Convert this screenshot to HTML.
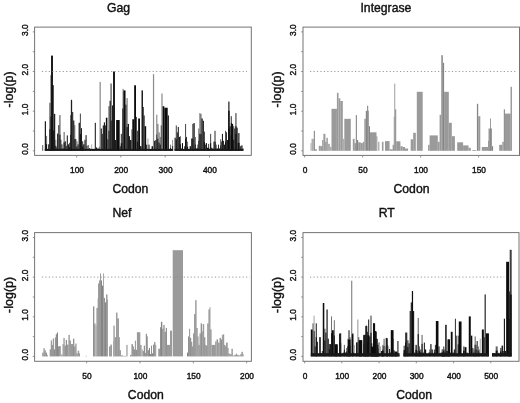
<!DOCTYPE html>
<html><head><meta charset="utf-8"><title>Codon plots</title>
<style>html,body{margin:0;padding:0;background:#fff;width:520px;height:403px;overflow:hidden}</style>
</head><body>
<svg width="520" height="403" viewBox="0 0 520 403" style="display:block;filter:blur(0.28px)">
<style>text{font-family:"Liberation Sans", sans-serif;fill:#111} .tk{stroke:#111;stroke-width:0.4} .lb{stroke:#111;stroke-width:0.4}</style>
<rect width="520" height="403" fill="#fff"/>
<g id="gag">
<rect x="42.00" y="145.11" width="1.23" height="5.69" fill="#7a7a7a"/>
<rect x="44.77" y="121.26" width="1.23" height="29.54" fill="#1e1e1e"/>
<rect x="46.00" y="135.88" width="1.08" height="14.92" fill="#7a7a7a"/>
<rect x="46.00" y="144.08" width="1.08" height="6.72" fill="#151515"/>
<rect x="47.08" y="148.95" width="1.08" height="1.85" fill="#1e1e1e"/>
<rect x="48.15" y="144.34" width="1.23" height="6.46" fill="#1e1e1e"/>
<rect x="49.38" y="102.80" width="1.23" height="48.00" fill="#505050"/>
<rect x="49.38" y="129.20" width="1.23" height="21.60" fill="#151515"/>
<rect x="53.23" y="130.49" width="0.77" height="20.31" fill="#0c0c0c"/>
<rect x="54.00" y="113.88" width="1.23" height="36.92" fill="#1e1e1e"/>
<rect x="55.23" y="139.72" width="1.08" height="11.08" fill="#7a7a7a"/>
<rect x="55.23" y="145.82" width="1.08" height="4.98" fill="#151515"/>
<rect x="56.31" y="147.42" width="0.77" height="3.38" fill="#1e1e1e"/>
<rect x="57.08" y="133.57" width="1.23" height="17.23" fill="#1e1e1e"/>
<rect x="58.31" y="125.11" width="1.08" height="25.69" fill="#1e1e1e"/>
<rect x="59.38" y="115.11" width="1.08" height="35.69" fill="#505050"/>
<rect x="59.38" y="134.74" width="1.08" height="16.06" fill="#151515"/>
<rect x="60.46" y="139.72" width="0.92" height="11.08" fill="#1e1e1e"/>
<rect x="61.38" y="144.34" width="1.08" height="6.46" fill="#1e1e1e"/>
<rect x="62.46" y="148.18" width="1.08" height="2.62" fill="#1e1e1e"/>
<rect x="63.54" y="132.03" width="1.23" height="18.77" fill="#7a7a7a"/>
<rect x="63.54" y="142.35" width="1.23" height="8.45" fill="#151515"/>
<rect x="64.77" y="141.26" width="1.08" height="9.54" fill="#1e1e1e"/>
<rect x="65.85" y="145.88" width="0.92" height="4.92" fill="#1e1e1e"/>
<rect x="66.77" y="135.42" width="1.08" height="15.38" fill="#1e1e1e"/>
<rect x="67.85" y="144.34" width="1.23" height="6.46" fill="#1e1e1e"/>
<rect x="69.08" y="142.80" width="1.08" height="8.00" fill="#505050"/>
<rect x="69.08" y="147.20" width="1.08" height="3.60" fill="#151515"/>
<rect x="70.15" y="115.11" width="0.77" height="35.69" fill="#505050"/>
<rect x="70.15" y="134.74" width="0.77" height="16.06" fill="#151515"/>
<rect x="70.92" y="100.49" width="1.23" height="50.31" fill="#1e1e1e"/>
<rect x="72.15" y="112.03" width="1.08" height="38.77" fill="#1e1e1e"/>
<rect x="73.23" y="120.49" width="1.08" height="30.31" fill="#0c0c0c"/>
<rect x="74.31" y="125.11" width="0.92" height="25.69" fill="#505050"/>
<rect x="74.31" y="139.24" width="0.92" height="11.56" fill="#151515"/>
<rect x="75.23" y="138.95" width="1.08" height="11.85" fill="#1e1e1e"/>
<rect x="76.31" y="141.26" width="1.23" height="9.54" fill="#7a7a7a"/>
<rect x="76.31" y="146.51" width="1.23" height="4.29" fill="#151515"/>
<rect x="77.54" y="144.34" width="1.08" height="6.46" fill="#1e1e1e"/>
<rect x="78.62" y="122.80" width="1.23" height="28.00" fill="#0c0c0c"/>
<rect x="79.85" y="113.57" width="1.08" height="37.23" fill="#505050"/>
<rect x="79.85" y="134.05" width="1.08" height="16.75" fill="#151515"/>
<rect x="80.92" y="128.18" width="1.08" height="22.62" fill="#1e1e1e"/>
<rect x="82.00" y="141.26" width="1.23" height="9.54" fill="#505050"/>
<rect x="82.00" y="146.51" width="1.23" height="4.29" fill="#151515"/>
<rect x="83.23" y="144.34" width="1.23" height="6.46" fill="#0c0c0c"/>
<rect x="84.46" y="139.72" width="1.08" height="11.08" fill="#1e1e1e"/>
<rect x="85.54" y="135.11" width="1.08" height="15.69" fill="#1e1e1e"/>
<rect x="86.62" y="145.88" width="0.92" height="4.92" fill="#1e1e1e"/>
<rect x="87.54" y="145.11" width="1.54" height="5.69" fill="#7a7a7a"/>
<rect x="89.08" y="148.18" width="1.08" height="2.62" fill="#1e1e1e"/>
<rect x="90.15" y="148.95" width="1.08" height="1.85" fill="#1e1e1e"/>
<rect x="91.23" y="144.34" width="0.92" height="6.46" fill="#a8a8a8"/>
<rect x="92.15" y="148.95" width="2.62" height="1.85" fill="#1e1e1e"/>
<rect x="94.77" y="122.80" width="1.08" height="28.00" fill="#1e1e1e"/>
<rect x="95.85" y="147.42" width="1.23" height="3.38" fill="#1e1e1e"/>
<rect x="97.08" y="148.18" width="1.85" height="2.62" fill="#7a7a7a"/>
<rect x="98.92" y="146.65" width="0.77" height="4.15" fill="#1e1e1e"/>
<rect x="50.46" y="75.10" width="0.92" height="75.70" fill="#505050"/>
<rect x="50.46" y="116.74" width="0.92" height="34.07" fill="#151515"/>
<rect x="51.08" y="55.60" width="1.85" height="95.20" fill="#0c0c0c"/>
<rect x="52.46" y="85.10" width="1.23" height="65.70" fill="#0c0c0c"/>
<rect x="70.92" y="99.80" width="1.08" height="51.00" fill="#1e1e1e"/>
<rect x="99.54" y="81.90" width="1.23" height="68.90" fill="#8b8b8b"/>
<rect x="110.46" y="83.50" width="1.23" height="67.30" fill="#505050"/>
<rect x="110.46" y="120.52" width="1.23" height="30.29" fill="#151515"/>
<rect x="113.08" y="71.50" width="1.85" height="79.30" fill="#0c0c0c"/>
<rect x="122.31" y="88.80" width="1.54" height="62.00" fill="#a8a8a8"/>
<rect x="123.38" y="90.40" width="2.15" height="60.40" fill="#0c0c0c"/>
<rect x="126.46" y="98.10" width="1.23" height="52.70" fill="#7a7a7a"/>
<rect x="126.46" y="127.09" width="1.23" height="23.72" fill="#151515"/>
<rect x="134.15" y="85.30" width="1.85" height="65.50" fill="#0c0c0c"/>
<rect x="141.54" y="90.40" width="1.38" height="60.40" fill="#0c0c0c"/>
<rect x="152.92" y="74.20" width="1.23" height="76.60" fill="#8b8b8b"/>
<rect x="161.38" y="93.50" width="1.23" height="57.30" fill="#8b8b8b"/>
<rect x="100.77" y="128.49" width="1.08" height="22.31" fill="#1e1e1e"/>
<rect x="101.85" y="133.88" width="0.92" height="16.92" fill="#1e1e1e"/>
<rect x="102.77" y="125.42" width="1.08" height="25.38" fill="#0c0c0c"/>
<rect x="103.85" y="122.34" width="1.08" height="28.46" fill="#0c0c0c"/>
<rect x="104.92" y="125.42" width="0.92" height="25.38" fill="#1e1e1e"/>
<rect x="105.85" y="117.72" width="1.54" height="33.08" fill="#0c0c0c"/>
<rect x="107.38" y="139.26" width="1.08" height="11.54" fill="#1e1e1e"/>
<rect x="108.46" y="106.18" width="1.08" height="44.62" fill="#505050"/>
<rect x="108.46" y="130.72" width="1.08" height="20.08" fill="#151515"/>
<rect x="109.54" y="100.80" width="1.23" height="50.00" fill="#1e1e1e"/>
<rect x="112.00" y="105.42" width="1.08" height="45.38" fill="#1e1e1e"/>
<rect x="114.92" y="140.03" width="1.23" height="10.77" fill="#1e1e1e"/>
<rect x="116.15" y="120.03" width="3.54" height="30.77" fill="#0c0c0c"/>
<rect x="119.69" y="146.18" width="1.08" height="4.62" fill="#1e1e1e"/>
<rect x="120.77" y="133.88" width="1.54" height="16.92" fill="#505050"/>
<rect x="120.77" y="143.18" width="1.54" height="7.62" fill="#151515"/>
<rect x="122.31" y="108.49" width="1.08" height="42.31" fill="#1e1e1e"/>
<rect x="125.38" y="104.65" width="1.08" height="46.15" fill="#1e1e1e"/>
<rect x="127.69" y="123.88" width="1.23" height="26.92" fill="#0c0c0c"/>
<rect x="128.92" y="136.18" width="1.08" height="14.62" fill="#1e1e1e"/>
<rect x="130.00" y="140.03" width="1.54" height="10.77" fill="#1e1e1e"/>
<rect x="131.54" y="129.26" width="0.77" height="21.54" fill="#1e1e1e"/>
<rect x="132.31" y="119.26" width="1.85" height="31.54" fill="#0c0c0c"/>
<rect x="136.15" y="116.95" width="0.77" height="33.85" fill="#1e1e1e"/>
<rect x="136.92" y="130.80" width="1.23" height="20.00" fill="#505050"/>
<rect x="136.92" y="141.80" width="1.23" height="9.00" fill="#151515"/>
<rect x="138.15" y="118.49" width="1.85" height="32.31" fill="#0c0c0c"/>
<rect x="140.00" y="146.18" width="1.54" height="4.62" fill="#1e1e1e"/>
<rect x="142.92" y="106.95" width="0.77" height="43.85" fill="#0c0c0c"/>
<rect x="143.69" y="115.42" width="0.92" height="35.38" fill="#0c0c0c"/>
<rect x="144.62" y="126.18" width="1.54" height="24.62" fill="#0c0c0c"/>
<rect x="146.15" y="144.65" width="1.23" height="6.15" fill="#1e1e1e"/>
<rect x="147.38" y="138.49" width="1.08" height="12.31" fill="#a8a8a8"/>
<rect x="148.46" y="144.65" width="1.08" height="6.15" fill="#1e1e1e"/>
<rect x="149.54" y="149.26" width="2.00" height="1.54" fill="#1e1e1e"/>
<rect x="151.54" y="146.18" width="1.54" height="4.62" fill="#1e1e1e"/>
<rect x="154.15" y="140.80" width="1.23" height="10.00" fill="#0c0c0c"/>
<rect x="155.38" y="140.03" width="1.08" height="10.77" fill="#1e1e1e"/>
<rect x="156.46" y="114.65" width="0.77" height="36.15" fill="#505050"/>
<rect x="156.46" y="134.53" width="0.77" height="16.27" fill="#151515"/>
<rect x="157.23" y="123.88" width="1.23" height="26.92" fill="#7a7a7a"/>
<rect x="157.23" y="138.68" width="1.23" height="12.12" fill="#151515"/>
<rect x="158.46" y="132.34" width="1.23" height="18.46" fill="#7a7a7a"/>
<rect x="158.46" y="142.49" width="1.23" height="8.31" fill="#151515"/>
<rect x="159.69" y="136.95" width="1.08" height="13.85" fill="#7a7a7a"/>
<rect x="159.69" y="144.57" width="1.08" height="6.23" fill="#151515"/>
<rect x="160.77" y="125.42" width="0.77" height="25.38" fill="#1e1e1e"/>
<rect x="162.62" y="106.18" width="1.69" height="44.62" fill="#0c0c0c"/>
<rect x="164.31" y="107.72" width="3.38" height="43.08" fill="#0c0c0c"/>
<rect x="167.69" y="115.42" width="1.23" height="35.38" fill="#1e1e1e"/>
<rect x="168.92" y="149.26" width="1.08" height="1.54" fill="#1e1e1e"/>
<rect x="170.00" y="144.65" width="1.08" height="6.15" fill="#7a7a7a"/>
<rect x="170.00" y="148.03" width="1.08" height="2.77" fill="#151515"/>
<rect x="171.08" y="149.26" width="1.23" height="1.54" fill="#1e1e1e"/>
<rect x="172.31" y="140.03" width="0.77" height="10.77" fill="#7a7a7a"/>
<rect x="172.31" y="145.95" width="0.77" height="4.85" fill="#151515"/>
<rect x="174.54" y="137.72" width="1.23" height="13.08" fill="#1e1e1e"/>
<rect x="175.77" y="125.42" width="1.08" height="25.38" fill="#505050"/>
<rect x="175.77" y="139.38" width="1.08" height="11.42" fill="#151515"/>
<rect x="176.85" y="132.34" width="0.92" height="18.46" fill="#0c0c0c"/>
<rect x="177.77" y="126.95" width="1.08" height="23.85" fill="#1e1e1e"/>
<rect x="178.85" y="136.95" width="1.08" height="13.85" fill="#0c0c0c"/>
<rect x="179.92" y="136.18" width="0.92" height="14.62" fill="#505050"/>
<rect x="179.92" y="144.22" width="0.92" height="6.58" fill="#151515"/>
<rect x="180.85" y="148.49" width="1.08" height="2.31" fill="#1e1e1e"/>
<rect x="181.92" y="143.11" width="1.08" height="7.69" fill="#0c0c0c"/>
<rect x="183.00" y="149.26" width="1.23" height="1.54" fill="#1e1e1e"/>
<rect x="184.23" y="146.18" width="0.77" height="4.62" fill="#1e1e1e"/>
<rect x="185.00" y="123.88" width="1.08" height="26.92" fill="#505050"/>
<rect x="185.00" y="138.68" width="1.08" height="12.12" fill="#151515"/>
<rect x="186.08" y="136.95" width="0.92" height="13.85" fill="#1e1e1e"/>
<rect x="187.00" y="141.57" width="1.08" height="9.23" fill="#7a7a7a"/>
<rect x="187.00" y="146.65" width="1.08" height="4.15" fill="#151515"/>
<rect x="188.08" y="149.26" width="1.54" height="1.54" fill="#1e1e1e"/>
<rect x="189.62" y="146.18" width="1.54" height="4.62" fill="#1e1e1e"/>
<rect x="191.15" y="138.49" width="1.08" height="12.31" fill="#1e1e1e"/>
<rect x="192.23" y="123.88" width="1.23" height="26.92" fill="#505050"/>
<rect x="192.23" y="138.68" width="1.23" height="12.12" fill="#151515"/>
<rect x="193.46" y="123.11" width="1.23" height="27.69" fill="#0c0c0c"/>
<rect x="194.69" y="136.95" width="1.08" height="13.85" fill="#505050"/>
<rect x="194.69" y="144.57" width="1.08" height="6.23" fill="#151515"/>
<rect x="195.77" y="148.49" width="1.54" height="2.31" fill="#1e1e1e"/>
<rect x="197.31" y="144.65" width="1.08" height="6.15" fill="#505050"/>
<rect x="197.31" y="148.03" width="1.08" height="2.77" fill="#151515"/>
<rect x="198.38" y="128.49" width="0.92" height="22.31" fill="#505050"/>
<rect x="198.38" y="140.76" width="0.92" height="10.04" fill="#151515"/>
<rect x="199.31" y="113.11" width="1.08" height="37.69" fill="#7a7a7a"/>
<rect x="199.31" y="133.84" width="1.08" height="16.96" fill="#151515"/>
<rect x="200.38" y="113.88" width="1.08" height="36.92" fill="#505050"/>
<rect x="200.38" y="134.18" width="1.08" height="16.62" fill="#151515"/>
<rect x="201.46" y="118.49" width="1.23" height="32.31" fill="#0c0c0c"/>
<rect x="202.69" y="120.80" width="1.23" height="30.00" fill="#1e1e1e"/>
<rect x="203.92" y="131.57" width="1.08" height="19.23" fill="#505050"/>
<rect x="203.92" y="142.15" width="1.08" height="8.65" fill="#151515"/>
<rect x="205.00" y="144.65" width="0.77" height="6.15" fill="#1e1e1e"/>
<rect x="205.77" y="143.11" width="1.23" height="7.69" fill="#1e1e1e"/>
<rect x="207.00" y="147.72" width="1.08" height="3.08" fill="#1e1e1e"/>
<rect x="208.08" y="143.88" width="1.08" height="6.92" fill="#505050"/>
<rect x="208.08" y="147.68" width="1.08" height="3.12" fill="#151515"/>
<rect x="209.15" y="149.26" width="0.92" height="1.54" fill="#1e1e1e"/>
<rect x="210.08" y="133.88" width="1.08" height="16.92" fill="#505050"/>
<rect x="210.08" y="143.18" width="1.08" height="7.62" fill="#151515"/>
<rect x="211.15" y="147.72" width="1.08" height="3.08" fill="#1e1e1e"/>
<rect x="212.23" y="148.49" width="1.23" height="2.31" fill="#1e1e1e"/>
<rect x="213.46" y="141.57" width="0.92" height="9.23" fill="#1e1e1e"/>
<rect x="214.38" y="130.80" width="1.23" height="20.00" fill="#505050"/>
<rect x="214.38" y="141.80" width="1.23" height="9.00" fill="#151515"/>
<rect x="215.62" y="144.65" width="0.92" height="6.15" fill="#1e1e1e"/>
<rect x="216.54" y="148.49" width="1.54" height="2.31" fill="#1e1e1e"/>
<rect x="218.08" y="144.65" width="0.92" height="6.15" fill="#1e1e1e"/>
<rect x="219.00" y="148.49" width="1.23" height="2.31" fill="#1e1e1e"/>
<rect x="220.23" y="139.26" width="0.92" height="11.54" fill="#505050"/>
<rect x="220.23" y="145.61" width="0.92" height="5.19" fill="#151515"/>
<rect x="221.15" y="141.57" width="0.77" height="9.23" fill="#1e1e1e"/>
<rect x="221.92" y="133.88" width="1.08" height="16.92" fill="#1e1e1e"/>
<rect x="223.00" y="140.80" width="0.92" height="10.00" fill="#1e1e1e"/>
<rect x="223.92" y="144.65" width="1.08" height="6.15" fill="#1e1e1e"/>
<rect x="225.00" y="130.80" width="1.08" height="20.00" fill="#505050"/>
<rect x="225.00" y="141.80" width="1.08" height="9.00" fill="#151515"/>
<rect x="226.08" y="132.34" width="0.92" height="18.46" fill="#1e1e1e"/>
<rect x="227.00" y="140.03" width="1.08" height="10.77" fill="#1e1e1e"/>
<rect x="228.08" y="101.57" width="1.54" height="49.23" fill="#505050"/>
<rect x="228.08" y="128.65" width="1.54" height="22.15" fill="#151515"/>
<rect x="228.23" y="110.80" width="1.38" height="40.00" fill="#0c0c0c"/>
<rect x="229.62" y="126.18" width="1.08" height="24.62" fill="#0c0c0c"/>
<rect x="230.69" y="116.18" width="1.23" height="34.62" fill="#505050"/>
<rect x="230.69" y="135.22" width="1.23" height="15.58" fill="#151515"/>
<rect x="230.85" y="123.11" width="1.08" height="27.69" fill="#0c0c0c"/>
<rect x="231.92" y="123.88" width="1.23" height="26.92" fill="#0c0c0c"/>
<rect x="233.15" y="126.18" width="1.08" height="24.62" fill="#505050"/>
<rect x="233.15" y="139.72" width="1.08" height="11.08" fill="#151515"/>
<rect x="234.23" y="128.49" width="1.08" height="22.31" fill="#1e1e1e"/>
<rect x="235.31" y="113.11" width="1.23" height="37.69" fill="#505050"/>
<rect x="235.31" y="133.84" width="1.23" height="16.96" fill="#151515"/>
<rect x="235.46" y="126.18" width="1.08" height="24.62" fill="#0c0c0c"/>
<rect x="236.54" y="127.72" width="1.08" height="23.08" fill="#0c0c0c"/>
<rect x="237.62" y="133.11" width="2.00" height="17.69" fill="#505050"/>
<rect x="237.62" y="142.84" width="2.00" height="7.96" fill="#151515"/>
<rect x="239.62" y="146.18" width="1.23" height="4.62" fill="#1e1e1e"/>
<rect x="240.85" y="145.42" width="1.85" height="5.38" fill="#505050"/>
<rect x="242.69" y="148.49" width="0.77" height="2.31" fill="#1e1e1e"/>
<rect x="44.80" y="148.90" width="128.30" height="1.90" fill="#181818"/>
<rect x="174.60" y="148.90" width="68.70" height="1.90" fill="#181818"/>
<line x1="41.9" y1="71.5" x2="247.0" y2="71.5" stroke="#888" stroke-width="0.85" stroke-dasharray="1.2,2.26"/>
<rect x="34.6" y="27.1" width="216.7" height="128.3" fill="none" stroke="#747474" stroke-width="1"/>
<line x1="32.8" y1="150.8" x2="34.6" y2="150.8" stroke="#777" stroke-width="0.8"/>
<line x1="32.8" y1="131.0" x2="34.6" y2="131.0" stroke="#777" stroke-width="0.8"/>
<line x1="32.8" y1="111.2" x2="34.6" y2="111.2" stroke="#777" stroke-width="0.8"/>
<line x1="32.8" y1="91.4" x2="34.6" y2="91.4" stroke="#777" stroke-width="0.8"/>
<line x1="32.8" y1="71.5" x2="34.6" y2="71.5" stroke="#777" stroke-width="0.8"/>
<line x1="32.8" y1="51.7" x2="34.6" y2="51.7" stroke="#777" stroke-width="0.8"/>
<line x1="32.8" y1="31.9" x2="34.6" y2="31.9" stroke="#777" stroke-width="0.8"/>
<text transform="translate(27.8,149.0) rotate(-90)" text-anchor="middle" font-size="8.4" class="tk">0.0</text>
<text transform="translate(27.8,109.4) rotate(-90)" text-anchor="middle" font-size="8.4" class="tk">1.0</text>
<text transform="translate(27.8,69.7) rotate(-90)" text-anchor="middle" font-size="8.4" class="tk">2.0</text>
<text transform="translate(27.8,30.1) rotate(-90)" text-anchor="middle" font-size="8.4" class="tk">3.0</text>
<line x1="76.6" y1="155.4" x2="76.6" y2="157.4" stroke="#777" stroke-width="0.8"/>
<text x="77.0" y="173.4" text-anchor="middle" font-size="8.4" class="tk">100</text>
<line x1="120.8" y1="155.4" x2="120.8" y2="157.4" stroke="#777" stroke-width="0.8"/>
<text x="121.2" y="173.4" text-anchor="middle" font-size="8.4" class="tk">200</text>
<line x1="165.2" y1="155.4" x2="165.2" y2="157.4" stroke="#777" stroke-width="0.8"/>
<text x="165.6" y="173.4" text-anchor="middle" font-size="8.4" class="tk">300</text>
<line x1="209.5" y1="155.4" x2="209.5" y2="157.4" stroke="#777" stroke-width="0.8"/>
<text x="209.9" y="173.4" text-anchor="middle" font-size="8.4" class="tk">400</text>
<text x="130.4" y="192.6" text-anchor="middle" font-size="12.2" class="lb">Codon</text>
<text transform="translate(12.5,89.4) rotate(-90)" text-anchor="middle" font-size="12.5" class="lb">-log(p)</text>
<text x="118.5" y="11.8" text-anchor="middle" font-size="12.2" class="lb">Gag</text>
</g>
<g id="int">
<rect x="310.50" y="143.10" width="1.00" height="7.70" fill="#adadad"/>
<rect x="311.50" y="138.80" width="2.30" height="12.00" fill="#adadad"/>
<rect x="313.80" y="130.80" width="1.10" height="20.00" fill="#858585"/>
<rect x="314.90" y="149.30" width="2.00" height="1.50" fill="#9a9a9a"/>
<rect x="318.80" y="145.80" width="2.00" height="5.00" fill="#9a9a9a"/>
<rect x="320.80" y="146.20" width="1.50" height="4.60" fill="#9a9a9a"/>
<rect x="322.30" y="140.00" width="1.10" height="10.80" fill="#858585"/>
<rect x="323.40" y="133.80" width="2.00" height="17.00" fill="#9a9a9a"/>
<rect x="325.40" y="141.80" width="1.10" height="9.00" fill="#858585"/>
<rect x="326.50" y="137.80" width="1.20" height="13.00" fill="#858585"/>
<rect x="327.70" y="143.80" width="2.30" height="7.00" fill="#adadad"/>
<rect x="330.00" y="146.80" width="1.50" height="4.00" fill="#adadad"/>
<rect x="331.50" y="108.80" width="5.40" height="42.00" fill="#9a9a9a"/>
<rect x="336.90" y="92.80" width="1.60" height="58.00" fill="#9a9a9a"/>
<rect x="338.50" y="98.30" width="1.80" height="52.50" fill="#9a9a9a"/>
<rect x="340.30" y="101.00" width="2.50" height="49.80" fill="#9a9a9a"/>
<rect x="342.80" y="138.80" width="1.50" height="12.00" fill="#adadad"/>
<rect x="344.30" y="118.80" width="6.50" height="32.00" fill="#9a9a9a"/>
<rect x="352.80" y="138.80" width="1.80" height="12.00" fill="#9a9a9a"/>
<rect x="354.60" y="143.10" width="1.20" height="7.70" fill="#858585"/>
<rect x="355.80" y="115.10" width="1.10" height="35.70" fill="#858585"/>
<rect x="356.90" y="140.00" width="1.30" height="10.80" fill="#858585"/>
<rect x="358.20" y="142.30" width="2.60" height="8.50" fill="#9a9a9a"/>
<rect x="360.80" y="143.10" width="2.00" height="7.70" fill="#9a9a9a"/>
<rect x="362.80" y="141.80" width="1.50" height="9.00" fill="#9a9a9a"/>
<rect x="364.30" y="118.80" width="1.50" height="32.00" fill="#9a9a9a"/>
<rect x="365.80" y="110.80" width="1.30" height="40.00" fill="#858585"/>
<rect x="367.10" y="105.80" width="1.10" height="45.00" fill="#858585"/>
<rect x="368.20" y="110.80" width="0.70" height="40.00" fill="#858585"/>
<rect x="368.90" y="126.20" width="1.10" height="24.60" fill="#858585"/>
<rect x="370.00" y="132.30" width="6.50" height="18.50" fill="#9a9a9a"/>
<rect x="376.50" y="136.20" width="0.80" height="14.60" fill="#858585"/>
<rect x="378.40" y="141.80" width="0.90" height="9.00" fill="#858585"/>
<rect x="381.90" y="141.80" width="1.60" height="9.00" fill="#9a9a9a"/>
<rect x="385.00" y="141.10" width="4.60" height="9.70" fill="#9a9a9a"/>
<rect x="389.60" y="149.30" width="3.10" height="1.50" fill="#9a9a9a"/>
<rect x="392.70" y="144.80" width="1.10" height="6.00" fill="#858585"/>
<rect x="393.80" y="116.80" width="0.60" height="34.00" fill="#858585"/>
<rect x="394.40" y="83.60" width="0.80" height="67.20" fill="#858585"/>
<rect x="395.20" y="109.30" width="1.00" height="41.50" fill="#858585"/>
<rect x="396.20" y="141.30" width="4.20" height="9.50" fill="#9a9a9a"/>
<rect x="400.40" y="146.20" width="2.30" height="4.60" fill="#9a9a9a"/>
<rect x="402.70" y="147.00" width="2.30" height="3.80" fill="#9a9a9a"/>
<rect x="405.00" y="148.50" width="3.10" height="2.30" fill="#9a9a9a"/>
<rect x="410.70" y="139.30" width="2.50" height="11.50" fill="#9a9a9a"/>
<rect x="413.20" y="132.80" width="2.60" height="18.00" fill="#9a9a9a"/>
<rect x="416.80" y="91.80" width="5.90" height="59.00" fill="#9a9a9a"/>
<rect x="428.10" y="144.80" width="1.50" height="6.00" fill="#9a9a9a"/>
<rect x="429.60" y="135.40" width="8.20" height="15.40" fill="#9a9a9a"/>
<rect x="437.80" y="141.80" width="1.80" height="9.00" fill="#9a9a9a"/>
<rect x="439.60" y="114.80" width="1.60" height="36.00" fill="#9a9a9a"/>
<rect x="441.20" y="55.20" width="1.80" height="95.60" fill="#9a9a9a"/>
<rect x="443.00" y="62.80" width="1.10" height="88.00" fill="#858585"/>
<rect x="444.10" y="91.80" width="4.70" height="59.00" fill="#9a9a9a"/>
<rect x="448.80" y="122.80" width="3.00" height="28.00" fill="#9a9a9a"/>
<rect x="451.80" y="136.20" width="3.10" height="14.60" fill="#9a9a9a"/>
<rect x="457.20" y="142.30" width="5.90" height="8.50" fill="#9a9a9a"/>
<rect x="463.10" y="145.40" width="5.40" height="5.40" fill="#9a9a9a"/>
<rect x="468.50" y="147.80" width="2.30" height="3.00" fill="#9a9a9a"/>
<rect x="472.30" y="150.00" width="3.90" height="0.80" fill="#9a9a9a"/>
<rect x="476.90" y="103.80" width="1.30" height="47.00" fill="#858585"/>
<rect x="478.20" y="116.20" width="2.10" height="34.60" fill="#9a9a9a"/>
<rect x="481.80" y="147.00" width="6.20" height="3.80" fill="#9a9a9a"/>
<rect x="488.00" y="140.80" width="1.50" height="10.00" fill="#9a9a9a"/>
<rect x="488.50" y="128.50" width="3.50" height="22.30" fill="#9a9a9a"/>
<rect x="490.00" y="118.50" width="0.80" height="32.30" fill="#858585"/>
<rect x="492.00" y="146.20" width="1.10" height="4.60" fill="#858585"/>
<rect x="499.20" y="144.80" width="3.10" height="6.00" fill="#9a9a9a"/>
<rect x="502.30" y="141.80" width="1.50" height="9.00" fill="#9a9a9a"/>
<rect x="503.80" y="109.30" width="1.10" height="41.50" fill="#858585"/>
<rect x="504.90" y="113.60" width="5.70" height="37.20" fill="#9a9a9a"/>
<rect x="510.60" y="86.80" width="1.20" height="64.00" fill="#858585"/>
<line x1="310.0" y1="71.5" x2="517.2" y2="71.5" stroke="#888" stroke-width="0.85" stroke-dasharray="1.2,2.26"/>
<rect x="303.0" y="27.1" width="216.5" height="128.3" fill="none" stroke="#747474" stroke-width="1"/>
<line x1="301.2" y1="150.8" x2="303.0" y2="150.8" stroke="#777" stroke-width="0.8"/>
<line x1="301.2" y1="131.0" x2="303.0" y2="131.0" stroke="#777" stroke-width="0.8"/>
<line x1="301.2" y1="111.2" x2="303.0" y2="111.2" stroke="#777" stroke-width="0.8"/>
<line x1="301.2" y1="91.4" x2="303.0" y2="91.4" stroke="#777" stroke-width="0.8"/>
<line x1="301.2" y1="71.5" x2="303.0" y2="71.5" stroke="#777" stroke-width="0.8"/>
<line x1="301.2" y1="51.7" x2="303.0" y2="51.7" stroke="#777" stroke-width="0.8"/>
<line x1="301.2" y1="31.9" x2="303.0" y2="31.9" stroke="#777" stroke-width="0.8"/>
<text transform="translate(296.2,149.0) rotate(-90)" text-anchor="middle" font-size="8.4" class="tk">0.0</text>
<text transform="translate(296.2,109.4) rotate(-90)" text-anchor="middle" font-size="8.4" class="tk">1.0</text>
<text transform="translate(296.2,69.7) rotate(-90)" text-anchor="middle" font-size="8.4" class="tk">2.0</text>
<text transform="translate(296.2,30.1) rotate(-90)" text-anchor="middle" font-size="8.4" class="tk">3.0</text>
<line x1="304.6" y1="155.4" x2="304.6" y2="157.4" stroke="#777" stroke-width="0.8"/>
<text x="305.0" y="173.4" text-anchor="middle" font-size="8.4" class="tk">0</text>
<line x1="362.6" y1="155.4" x2="362.6" y2="157.4" stroke="#777" stroke-width="0.8"/>
<text x="363.0" y="173.4" text-anchor="middle" font-size="8.4" class="tk">50</text>
<line x1="420.6" y1="155.4" x2="420.6" y2="157.4" stroke="#777" stroke-width="0.8"/>
<text x="421.0" y="173.4" text-anchor="middle" font-size="8.4" class="tk">100</text>
<line x1="478.6" y1="155.4" x2="478.6" y2="157.4" stroke="#777" stroke-width="0.8"/>
<text x="479.0" y="173.4" text-anchor="middle" font-size="8.4" class="tk">150</text>
<text x="411.5" y="192.6" text-anchor="middle" font-size="12.2" class="lb">Codon</text>
<text transform="translate(280.9,89.4) rotate(-90)" text-anchor="middle" font-size="12.5" class="lb">-log(p)</text>
<text x="385.9" y="11.8" text-anchor="middle" font-size="12.2" class="lb">Integrase</text>
</g>
<g id="nef">
<rect x="42.30" y="352.60" width="1.20" height="3.80" fill="#858585"/>
<rect x="43.50" y="348.20" width="1.10" height="8.20" fill="#858585"/>
<rect x="44.60" y="350.20" width="1.10" height="6.20" fill="#858585"/>
<rect x="45.70" y="352.60" width="1.20" height="3.80" fill="#858585"/>
<rect x="46.90" y="354.90" width="0.80" height="1.50" fill="#858585"/>
<rect x="49.70" y="349.40" width="1.10" height="7.00" fill="#858585"/>
<rect x="50.80" y="340.40" width="1.00" height="16.00" fill="#858585"/>
<rect x="51.80" y="344.90" width="1.00" height="11.50" fill="#858585"/>
<rect x="52.80" y="338.40" width="1.00" height="18.00" fill="#858585"/>
<rect x="53.80" y="349.40" width="1.10" height="7.00" fill="#858585"/>
<rect x="54.90" y="337.40" width="0.90" height="19.00" fill="#858585"/>
<rect x="55.80" y="334.10" width="1.10" height="22.30" fill="#858585"/>
<rect x="56.90" y="332.40" width="1.10" height="24.00" fill="#858585"/>
<rect x="58.00" y="346.40" width="0.90" height="10.00" fill="#858585"/>
<rect x="58.90" y="346.10" width="1.90" height="10.30" fill="#9a9a9a"/>
<rect x="60.80" y="354.40" width="1.80" height="2.00" fill="#adadad"/>
<rect x="62.60" y="344.10" width="0.90" height="12.30" fill="#858585"/>
<rect x="63.50" y="337.90" width="1.10" height="18.50" fill="#858585"/>
<rect x="64.60" y="345.60" width="1.20" height="10.80" fill="#858585"/>
<rect x="65.80" y="339.90" width="1.10" height="16.50" fill="#858585"/>
<rect x="66.90" y="344.60" width="1.60" height="11.80" fill="#9a9a9a"/>
<rect x="68.50" y="334.90" width="1.20" height="21.50" fill="#858585"/>
<rect x="69.70" y="340.60" width="1.10" height="15.80" fill="#858585"/>
<rect x="70.80" y="344.10" width="2.30" height="12.30" fill="#9a9a9a"/>
<rect x="73.10" y="338.70" width="1.20" height="17.70" fill="#858585"/>
<rect x="74.30" y="346.40" width="1.10" height="10.00" fill="#858585"/>
<rect x="75.40" y="343.60" width="1.10" height="12.80" fill="#858585"/>
<rect x="76.50" y="353.40" width="1.20" height="3.00" fill="#858585"/>
<rect x="77.70" y="350.70" width="1.50" height="5.70" fill="#9a9a9a"/>
<rect x="79.20" y="353.40" width="0.80" height="3.00" fill="#858585"/>
<rect x="85.50" y="355.80" width="1.50" height="0.60" fill="#adadad"/>
<rect x="93.10" y="306.40" width="1.20" height="50.00" fill="#858585"/>
<rect x="94.30" y="323.40" width="1.10" height="33.00" fill="#858585"/>
<rect x="95.40" y="325.60" width="1.10" height="30.80" fill="#adadad"/>
<rect x="96.50" y="307.90" width="1.20" height="48.50" fill="#858585"/>
<rect x="97.70" y="298.40" width="0.50" height="58.00" fill="#858585"/>
<rect x="98.20" y="283.40" width="1.00" height="73.00" fill="#858585"/>
<rect x="99.20" y="280.40" width="0.80" height="76.00" fill="#858585"/>
<rect x="100.00" y="273.40" width="0.80" height="83.00" fill="#858585"/>
<rect x="100.80" y="280.40" width="1.20" height="76.00" fill="#858585"/>
<rect x="102.00" y="285.60" width="1.10" height="70.80" fill="#858585"/>
<rect x="103.10" y="273.40" width="0.70" height="83.00" fill="#858585"/>
<rect x="103.80" y="297.90" width="1.10" height="58.50" fill="#858585"/>
<rect x="104.90" y="302.40" width="1.30" height="54.00" fill="#858585"/>
<rect x="106.20" y="294.40" width="1.20" height="62.00" fill="#858585"/>
<rect x="107.40" y="299.40" width="0.60" height="57.00" fill="#858585"/>
<rect x="109.20" y="346.40" width="1.30" height="10.00" fill="#858585"/>
<rect x="110.50" y="344.60" width="1.30" height="11.80" fill="#858585"/>
<rect x="113.10" y="341.00" width="0.40" height="15.40" fill="#858585"/>
<rect x="113.50" y="325.60" width="1.10" height="30.80" fill="#858585"/>
<rect x="114.60" y="337.20" width="1.60" height="19.20" fill="#9a9a9a"/>
<rect x="116.20" y="312.60" width="1.20" height="43.80" fill="#858585"/>
<rect x="117.40" y="318.40" width="1.40" height="38.00" fill="#858585"/>
<rect x="118.80" y="337.20" width="0.90" height="19.20" fill="#858585"/>
<rect x="119.70" y="350.20" width="1.10" height="6.20" fill="#858585"/>
<rect x="120.80" y="355.40" width="2.30" height="1.00" fill="#9a9a9a"/>
<rect x="123.10" y="355.90" width="3.10" height="0.50" fill="#9a9a9a"/>
<rect x="126.20" y="344.90" width="1.50" height="11.50" fill="#adadad"/>
<rect x="130.00" y="354.90" width="1.50" height="1.50" fill="#9a9a9a"/>
<rect x="131.50" y="344.10" width="1.30" height="12.30" fill="#858585"/>
<rect x="132.80" y="346.40" width="1.00" height="10.00" fill="#858585"/>
<rect x="133.80" y="349.40" width="1.10" height="7.00" fill="#858585"/>
<rect x="134.90" y="340.60" width="0.90" height="15.80" fill="#858585"/>
<rect x="135.80" y="349.80" width="1.10" height="6.60" fill="#858585"/>
<rect x="136.90" y="332.20" width="3.40" height="24.20" fill="#9a9a9a"/>
<rect x="140.30" y="344.90" width="1.20" height="11.50" fill="#858585"/>
<rect x="141.50" y="349.40" width="1.30" height="7.00" fill="#adadad"/>
<rect x="142.80" y="351.00" width="1.00" height="5.40" fill="#858585"/>
<rect x="143.80" y="345.60" width="1.10" height="10.80" fill="#858585"/>
<rect x="144.90" y="352.90" width="0.90" height="3.50" fill="#858585"/>
<rect x="145.80" y="333.80" width="1.10" height="22.60" fill="#858585"/>
<rect x="146.90" y="336.40" width="0.80" height="20.00" fill="#858585"/>
<rect x="147.70" y="350.20" width="1.20" height="6.20" fill="#858585"/>
<rect x="148.90" y="347.90" width="1.10" height="8.50" fill="#858585"/>
<rect x="150.00" y="354.10" width="1.10" height="2.30" fill="#858585"/>
<rect x="151.10" y="345.60" width="0.90" height="10.80" fill="#858585"/>
<rect x="152.00" y="353.40" width="1.10" height="3.00" fill="#858585"/>
<rect x="153.10" y="344.60" width="1.10" height="11.80" fill="#858585"/>
<rect x="154.20" y="342.10" width="1.20" height="14.30" fill="#858585"/>
<rect x="155.40" y="344.90" width="0.80" height="11.50" fill="#858585"/>
<rect x="158.20" y="348.70" width="1.80" height="7.70" fill="#9a9a9a"/>
<rect x="160.00" y="327.20" width="0.90" height="29.20" fill="#858585"/>
<rect x="160.90" y="321.80" width="1.40" height="34.60" fill="#858585"/>
<rect x="162.30" y="328.70" width="1.10" height="27.70" fill="#858585"/>
<rect x="163.40" y="324.90" width="1.20" height="31.50" fill="#858585"/>
<rect x="164.60" y="331.80" width="1.20" height="24.60" fill="#858585"/>
<rect x="165.80" y="327.90" width="1.10" height="28.50" fill="#858585"/>
<rect x="166.90" y="344.90" width="3.10" height="11.50" fill="#9a9a9a"/>
<rect x="170.00" y="330.70" width="2.00" height="25.70" fill="#9a9a9a"/>
<rect x="172.70" y="250.20" width="10.30" height="106.20" fill="#9a9a9a"/>
<rect x="187.00" y="352.60" width="1.10" height="3.80" fill="#858585"/>
<rect x="188.10" y="336.40" width="1.10" height="20.00" fill="#858585"/>
<rect x="189.20" y="328.70" width="0.90" height="27.70" fill="#858585"/>
<rect x="190.10" y="337.90" width="1.10" height="18.50" fill="#858585"/>
<rect x="191.20" y="341.80" width="1.00" height="14.60" fill="#858585"/>
<rect x="192.20" y="346.40" width="1.00" height="10.00" fill="#858585"/>
<rect x="193.20" y="333.40" width="1.00" height="23.00" fill="#858585"/>
<rect x="194.20" y="314.10" width="1.10" height="42.30" fill="#858585"/>
<rect x="195.30" y="300.20" width="1.20" height="56.20" fill="#858585"/>
<rect x="196.50" y="327.90" width="1.10" height="28.50" fill="#858585"/>
<rect x="197.60" y="336.40" width="0.90" height="20.00" fill="#858585"/>
<rect x="198.50" y="344.90" width="1.10" height="11.50" fill="#858585"/>
<rect x="199.60" y="333.40" width="1.10" height="23.00" fill="#858585"/>
<rect x="200.70" y="323.40" width="1.20" height="33.00" fill="#858585"/>
<rect x="201.90" y="331.40" width="0.80" height="25.00" fill="#858585"/>
<rect x="202.70" y="324.10" width="1.50" height="32.30" fill="#9a9a9a"/>
<rect x="204.20" y="337.20" width="1.10" height="19.20" fill="#858585"/>
<rect x="205.30" y="344.90" width="0.90" height="11.50" fill="#858585"/>
<rect x="206.20" y="345.60" width="1.10" height="10.80" fill="#858585"/>
<rect x="207.30" y="323.40" width="1.20" height="33.00" fill="#858585"/>
<rect x="208.50" y="309.40" width="1.10" height="47.00" fill="#858585"/>
<rect x="209.60" y="307.20" width="0.80" height="49.20" fill="#858585"/>
<rect x="210.40" y="329.40" width="1.10" height="27.00" fill="#858585"/>
<rect x="211.50" y="344.90" width="3.80" height="11.50" fill="#9a9a9a"/>
<rect x="215.30" y="341.40" width="1.20" height="15.00" fill="#858585"/>
<rect x="216.50" y="339.40" width="1.60" height="17.00" fill="#9a9a9a"/>
<rect x="218.10" y="342.60" width="1.50" height="13.80" fill="#9a9a9a"/>
<rect x="219.60" y="337.90" width="1.20" height="18.50" fill="#858585"/>
<rect x="220.80" y="339.40" width="1.10" height="17.00" fill="#858585"/>
<rect x="221.90" y="334.90" width="0.80" height="21.50" fill="#858585"/>
<rect x="222.70" y="334.40" width="1.50" height="22.00" fill="#9a9a9a"/>
<rect x="224.20" y="344.90" width="1.10" height="11.50" fill="#858585"/>
<rect x="225.30" y="346.40" width="0.90" height="10.00" fill="#858585"/>
<rect x="226.20" y="342.60" width="1.40" height="13.80" fill="#858585"/>
<rect x="227.60" y="347.90" width="0.90" height="8.50" fill="#858585"/>
<rect x="228.50" y="353.40" width="1.10" height="3.00" fill="#858585"/>
<rect x="229.60" y="354.10" width="1.90" height="2.30" fill="#9a9a9a"/>
<rect x="231.50" y="348.70" width="1.20" height="7.70" fill="#858585"/>
<rect x="232.70" y="355.60" width="1.50" height="0.80" fill="#9a9a9a"/>
<rect x="234.20" y="354.90" width="1.60" height="1.50" fill="#9a9a9a"/>
<rect x="235.80" y="353.60" width="1.00" height="2.80" fill="#858585"/>
<rect x="236.80" y="354.90" width="2.00" height="1.50" fill="#9a9a9a"/>
<rect x="238.80" y="355.40" width="1.60" height="1.00" fill="#9a9a9a"/>
<rect x="240.40" y="354.10" width="1.10" height="2.30" fill="#858585"/>
<rect x="241.50" y="351.80" width="1.20" height="4.60" fill="#858585"/>
<rect x="242.70" y="354.10" width="0.80" height="2.30" fill="#858585"/>
<line x1="41.9" y1="277.1" x2="249.8" y2="277.1" stroke="#888" stroke-width="0.85" stroke-dasharray="1.2,2.26"/>
<rect x="34.6" y="232.6" width="216.8" height="128.7" fill="none" stroke="#747474" stroke-width="1"/>
<line x1="32.8" y1="356.4" x2="34.6" y2="356.4" stroke="#777" stroke-width="0.8"/>
<line x1="32.8" y1="336.6" x2="34.6" y2="336.6" stroke="#777" stroke-width="0.8"/>
<line x1="32.8" y1="316.8" x2="34.6" y2="316.8" stroke="#777" stroke-width="0.8"/>
<line x1="32.8" y1="297.0" x2="34.6" y2="297.0" stroke="#777" stroke-width="0.8"/>
<line x1="32.8" y1="277.1" x2="34.6" y2="277.1" stroke="#777" stroke-width="0.8"/>
<line x1="32.8" y1="257.3" x2="34.6" y2="257.3" stroke="#777" stroke-width="0.8"/>
<line x1="32.8" y1="237.5" x2="34.6" y2="237.5" stroke="#777" stroke-width="0.8"/>
<text transform="translate(27.8,354.6) rotate(-90)" text-anchor="middle" font-size="8.4" class="tk">0.0</text>
<text transform="translate(27.8,315.0) rotate(-90)" text-anchor="middle" font-size="8.4" class="tk">1.0</text>
<text transform="translate(27.8,275.3) rotate(-90)" text-anchor="middle" font-size="8.4" class="tk">2.0</text>
<text transform="translate(27.8,235.7) rotate(-90)" text-anchor="middle" font-size="8.4" class="tk">3.0</text>
<line x1="86.6" y1="361.3" x2="86.6" y2="363.3" stroke="#777" stroke-width="0.8"/>
<text x="87.0" y="379.3" text-anchor="middle" font-size="8.4" class="tk">50</text>
<line x1="140.0" y1="361.3" x2="140.0" y2="363.3" stroke="#777" stroke-width="0.8"/>
<text x="140.4" y="379.3" text-anchor="middle" font-size="8.4" class="tk">100</text>
<line x1="193.3" y1="361.3" x2="193.3" y2="363.3" stroke="#777" stroke-width="0.8"/>
<text x="193.7" y="379.3" text-anchor="middle" font-size="8.4" class="tk">150</text>
<line x1="246.6" y1="361.3" x2="246.6" y2="363.3" stroke="#777" stroke-width="0.8"/>
<text x="247.0" y="379.3" text-anchor="middle" font-size="8.4" class="tk">200</text>
<text x="145.8" y="399.2" text-anchor="middle" font-size="12.2" class="lb">Codon</text>
<text transform="translate(12.5,294.9) rotate(-90)" text-anchor="middle" font-size="12.5" class="lb">-log(p)</text>
<text x="121.9" y="217.3" text-anchor="middle" font-size="12.2" class="lb">Nef</text>
</g>
<g id="rt">
<rect x="310.77" y="329.48" width="1.85" height="26.92" fill="#0c0c0c"/>
<rect x="312.62" y="323.32" width="0.92" height="33.08" fill="#1e1e1e"/>
<rect x="313.54" y="315.63" width="1.08" height="40.77" fill="#a8a8a8"/>
<rect x="313.69" y="331.02" width="0.92" height="25.38" fill="#1e1e1e"/>
<rect x="314.62" y="346.40" width="1.08" height="10.00" fill="#0c0c0c"/>
<rect x="315.69" y="323.32" width="1.23" height="33.08" fill="#3e3e3e"/>
<rect x="315.69" y="337.22" width="1.23" height="19.18" fill="#151515"/>
<rect x="316.92" y="341.78" width="0.92" height="14.62" fill="#0c0c0c"/>
<rect x="317.85" y="354.09" width="1.38" height="2.31" fill="#1e1e1e"/>
<rect x="319.23" y="337.17" width="1.54" height="19.23" fill="#0c0c0c"/>
<rect x="320.77" y="353.32" width="1.08" height="3.08" fill="#1e1e1e"/>
<rect x="321.85" y="351.02" width="0.92" height="5.38" fill="#1e1e1e"/>
<rect x="322.77" y="303.02" width="1.54" height="53.38" fill="#0c0c0c"/>
<rect x="324.31" y="328.71" width="1.08" height="27.69" fill="#3e3e3e"/>
<rect x="324.31" y="340.34" width="1.08" height="16.06" fill="#151515"/>
<rect x="325.38" y="332.55" width="1.08" height="23.85" fill="#0c0c0c"/>
<rect x="326.46" y="309.48" width="1.23" height="46.92" fill="#1e1e1e"/>
<rect x="327.69" y="338.71" width="1.08" height="17.69" fill="#0c0c0c"/>
<rect x="328.77" y="344.09" width="1.23" height="12.31" fill="#3e3e3e"/>
<rect x="328.77" y="349.26" width="1.23" height="7.14" fill="#151515"/>
<rect x="330.00" y="344.09" width="1.08" height="12.31" fill="#1e1e1e"/>
<rect x="331.08" y="316.40" width="0.92" height="40.00" fill="#666666"/>
<rect x="331.08" y="333.20" width="0.92" height="23.20" fill="#151515"/>
<rect x="332.00" y="330.25" width="1.85" height="26.15" fill="#0c0c0c"/>
<rect x="333.85" y="320.25" width="0.92" height="36.15" fill="#666666"/>
<rect x="333.85" y="335.43" width="0.92" height="20.97" fill="#151515"/>
<rect x="334.77" y="344.86" width="0.92" height="11.54" fill="#1e1e1e"/>
<rect x="335.69" y="344.55" width="2.00" height="11.85" fill="#0c0c0c"/>
<rect x="337.69" y="353.32" width="1.54" height="3.08" fill="#1e1e1e"/>
<rect x="339.23" y="342.55" width="1.08" height="13.85" fill="#0c0c0c"/>
<rect x="340.31" y="333.32" width="0.92" height="23.08" fill="#3e3e3e"/>
<rect x="340.31" y="343.02" width="0.92" height="13.38" fill="#151515"/>
<rect x="341.23" y="354.09" width="1.54" height="2.31" fill="#1e1e1e"/>
<rect x="342.77" y="352.55" width="1.08" height="3.85" fill="#1e1e1e"/>
<rect x="343.85" y="344.86" width="1.08" height="11.54" fill="#666666"/>
<rect x="343.85" y="349.71" width="1.08" height="6.69" fill="#151515"/>
<rect x="344.92" y="352.55" width="1.23" height="3.85" fill="#1e1e1e"/>
<rect x="346.15" y="347.94" width="1.23" height="8.46" fill="#666666"/>
<rect x="346.15" y="351.49" width="1.23" height="4.91" fill="#151515"/>
<rect x="347.38" y="338.71" width="1.08" height="17.69" fill="#666666"/>
<rect x="347.38" y="346.14" width="1.08" height="10.26" fill="#151515"/>
<rect x="348.46" y="330.25" width="1.08" height="26.15" fill="#1e1e1e"/>
<rect x="349.54" y="337.17" width="0.92" height="19.23" fill="#3e3e3e"/>
<rect x="349.54" y="345.25" width="0.92" height="11.15" fill="#151515"/>
<rect x="350.46" y="339.48" width="0.77" height="16.92" fill="#0c0c0c"/>
<rect x="352.31" y="333.32" width="1.08" height="23.08" fill="#0c0c0c"/>
<rect x="353.38" y="352.55" width="0.77" height="3.85" fill="#1e1e1e"/>
<rect x="354.15" y="344.86" width="0.92" height="11.54" fill="#a8a8a8"/>
<rect x="355.08" y="354.09" width="1.08" height="2.31" fill="#1e1e1e"/>
<rect x="356.15" y="342.55" width="1.08" height="13.85" fill="#0c0c0c"/>
<rect x="357.23" y="319.48" width="1.23" height="36.92" fill="#a8a8a8"/>
<rect x="358.46" y="337.17" width="0.77" height="19.23" fill="#1e1e1e"/>
<rect x="359.23" y="340.25" width="3.08" height="16.15" fill="#0c0c0c"/>
<rect x="362.31" y="354.09" width="1.08" height="2.31" fill="#1e1e1e"/>
<rect x="363.38" y="335.63" width="1.23" height="20.77" fill="#3e3e3e"/>
<rect x="363.38" y="344.35" width="1.23" height="12.05" fill="#151515"/>
<rect x="364.62" y="334.86" width="1.23" height="21.54" fill="#666666"/>
<rect x="364.62" y="343.91" width="1.23" height="12.49" fill="#151515"/>
<rect x="365.85" y="325.63" width="1.08" height="30.77" fill="#1e1e1e"/>
<rect x="366.92" y="331.78" width="1.08" height="24.62" fill="#3e3e3e"/>
<rect x="366.92" y="342.12" width="1.08" height="14.28" fill="#151515"/>
<rect x="368.00" y="319.48" width="1.23" height="36.92" fill="#3e3e3e"/>
<rect x="368.00" y="334.98" width="1.23" height="21.42" fill="#151515"/>
<rect x="369.23" y="336.40" width="1.23" height="20.00" fill="#0c0c0c"/>
<rect x="370.46" y="315.63" width="1.08" height="40.77" fill="#3e3e3e"/>
<rect x="370.46" y="332.75" width="1.08" height="23.65" fill="#151515"/>
<rect x="371.54" y="343.32" width="0.77" height="13.08" fill="#1e1e1e"/>
<rect x="372.31" y="346.40" width="1.08" height="10.00" fill="#1e1e1e"/>
<rect x="373.38" y="323.32" width="1.23" height="33.08" fill="#0c0c0c"/>
<rect x="374.62" y="331.02" width="1.08" height="25.38" fill="#0c0c0c"/>
<rect x="375.69" y="338.71" width="1.23" height="17.69" fill="#3e3e3e"/>
<rect x="375.69" y="346.14" width="1.23" height="10.26" fill="#151515"/>
<rect x="376.92" y="344.86" width="1.54" height="11.54" fill="#0c0c0c"/>
<rect x="378.46" y="342.55" width="1.23" height="13.85" fill="#3e3e3e"/>
<rect x="378.46" y="348.37" width="1.23" height="8.03" fill="#151515"/>
<rect x="351.08" y="280.70" width="1.23" height="75.70" fill="#8b8b8b"/>
<rect x="370.77" y="343.32" width="1.08" height="13.08" fill="#1e1e1e"/>
<rect x="371.85" y="347.94" width="1.23" height="8.46" fill="#1e1e1e"/>
<rect x="373.08" y="323.32" width="1.23" height="33.08" fill="#0c0c0c"/>
<rect x="374.31" y="331.02" width="1.08" height="25.38" fill="#0c0c0c"/>
<rect x="375.38" y="338.71" width="1.08" height="17.69" fill="#3e3e3e"/>
<rect x="375.38" y="346.14" width="1.08" height="10.26" fill="#151515"/>
<rect x="376.46" y="344.86" width="1.23" height="11.54" fill="#0c0c0c"/>
<rect x="377.69" y="352.55" width="1.23" height="3.85" fill="#1e1e1e"/>
<rect x="378.92" y="343.32" width="1.08" height="13.08" fill="#a8a8a8"/>
<rect x="380.00" y="346.40" width="1.08" height="10.00" fill="#a8a8a8"/>
<rect x="381.08" y="351.02" width="1.23" height="5.38" fill="#1e1e1e"/>
<rect x="382.31" y="344.86" width="1.23" height="11.54" fill="#666666"/>
<rect x="382.31" y="349.71" width="1.23" height="6.69" fill="#151515"/>
<rect x="383.54" y="338.71" width="1.08" height="17.69" fill="#666666"/>
<rect x="383.54" y="346.14" width="1.08" height="10.26" fill="#151515"/>
<rect x="384.62" y="346.40" width="1.08" height="10.00" fill="#a8a8a8"/>
<rect x="385.69" y="337.94" width="1.23" height="18.46" fill="#1e1e1e"/>
<rect x="386.92" y="344.86" width="1.23" height="11.54" fill="#666666"/>
<rect x="386.92" y="349.71" width="1.23" height="6.69" fill="#151515"/>
<rect x="388.15" y="346.40" width="1.08" height="10.00" fill="#a8a8a8"/>
<rect x="389.23" y="352.55" width="1.54" height="3.85" fill="#0c0c0c"/>
<rect x="390.77" y="330.25" width="1.54" height="26.15" fill="#0c0c0c"/>
<rect x="392.31" y="338.71" width="1.08" height="17.69" fill="#0c0c0c"/>
<rect x="393.38" y="350.25" width="1.23" height="6.15" fill="#0c0c0c"/>
<rect x="394.62" y="351.78" width="2.77" height="4.62" fill="#0c0c0c"/>
<rect x="397.38" y="341.02" width="1.08" height="15.38" fill="#1e1e1e"/>
<rect x="398.46" y="355.63" width="1.08" height="0.77" fill="#1e1e1e"/>
<rect x="403.54" y="345.63" width="1.54" height="10.77" fill="#666666"/>
<rect x="403.54" y="350.15" width="1.54" height="6.25" fill="#151515"/>
<rect x="405.08" y="332.55" width="1.08" height="23.85" fill="#3e3e3e"/>
<rect x="405.08" y="342.57" width="1.08" height="13.83" fill="#151515"/>
<rect x="406.15" y="332.55" width="1.08" height="23.85" fill="#0c0c0c"/>
<rect x="407.23" y="340.25" width="1.23" height="16.15" fill="#3e3e3e"/>
<rect x="407.23" y="347.03" width="1.23" height="9.37" fill="#151515"/>
<rect x="408.46" y="343.32" width="1.23" height="13.08" fill="#1e1e1e"/>
<rect x="409.69" y="311.02" width="1.08" height="45.38" fill="#0c0c0c"/>
<rect x="410.77" y="302.40" width="1.08" height="54.00" fill="#0c0c0c"/>
<rect x="413.08" y="311.02" width="1.08" height="45.38" fill="#0c0c0c"/>
<rect x="414.15" y="352.55" width="1.23" height="3.85" fill="#1e1e1e"/>
<rect x="415.38" y="344.86" width="1.54" height="11.54" fill="#3e3e3e"/>
<rect x="415.38" y="349.71" width="1.54" height="6.69" fill="#151515"/>
<rect x="416.92" y="351.02" width="0.77" height="5.38" fill="#1e1e1e"/>
<rect x="417.69" y="317.94" width="1.08" height="38.46" fill="#666666"/>
<rect x="417.69" y="334.09" width="1.08" height="22.31" fill="#151515"/>
<rect x="418.77" y="346.40" width="1.23" height="10.00" fill="#666666"/>
<rect x="418.77" y="350.60" width="1.23" height="5.80" fill="#151515"/>
<rect x="420.00" y="349.48" width="1.54" height="6.92" fill="#666666"/>
<rect x="420.00" y="352.38" width="1.54" height="4.02" fill="#151515"/>
<rect x="421.54" y="334.86" width="1.08" height="21.54" fill="#666666"/>
<rect x="421.54" y="343.91" width="1.08" height="12.49" fill="#151515"/>
<rect x="422.62" y="352.55" width="1.23" height="3.85" fill="#1e1e1e"/>
<rect x="423.85" y="342.55" width="1.08" height="13.85" fill="#1e1e1e"/>
<rect x="424.92" y="349.48" width="1.23" height="6.92" fill="#0c0c0c"/>
<rect x="426.15" y="354.09" width="1.08" height="2.31" fill="#1e1e1e"/>
<rect x="427.23" y="354.86" width="1.23" height="1.54" fill="#1e1e1e"/>
<rect x="428.46" y="352.55" width="0.77" height="3.85" fill="#1e1e1e"/>
<rect x="429.23" y="349.48" width="1.08" height="6.92" fill="#666666"/>
<rect x="429.23" y="352.38" width="1.08" height="4.02" fill="#151515"/>
<rect x="430.31" y="344.09" width="1.23" height="12.31" fill="#1e1e1e"/>
<rect x="431.54" y="349.48" width="1.23" height="6.92" fill="#0c0c0c"/>
<rect x="432.77" y="354.09" width="1.08" height="2.31" fill="#1e1e1e"/>
<rect x="433.85" y="349.48" width="1.08" height="6.92" fill="#3e3e3e"/>
<rect x="433.85" y="352.38" width="1.08" height="4.02" fill="#151515"/>
<rect x="434.92" y="344.86" width="0.92" height="11.54" fill="#1e1e1e"/>
<rect x="435.85" y="321.02" width="2.62" height="35.38" fill="#0c0c0c"/>
<rect x="438.46" y="346.40" width="1.08" height="10.00" fill="#1e1e1e"/>
<rect x="439.54" y="353.32" width="1.23" height="3.08" fill="#1e1e1e"/>
<rect x="440.77" y="352.55" width="1.23" height="3.85" fill="#7a7a7a"/>
<rect x="442.00" y="349.48" width="1.08" height="6.92" fill="#666666"/>
<rect x="442.00" y="352.38" width="1.08" height="4.02" fill="#151515"/>
<rect x="443.08" y="347.17" width="1.08" height="9.23" fill="#666666"/>
<rect x="443.08" y="351.05" width="1.08" height="5.35" fill="#151515"/>
<rect x="444.15" y="352.55" width="1.23" height="3.85" fill="#1e1e1e"/>
<rect x="445.38" y="324.86" width="1.08" height="31.54" fill="#1e1e1e"/>
<rect x="446.46" y="351.02" width="1.23" height="5.38" fill="#1e1e1e"/>
<rect x="447.69" y="339.48" width="2.31" height="16.92" fill="#0c0c0c"/>
<rect x="411.85" y="291.00" width="1.23" height="65.40" fill="#0c0c0c"/>
<rect x="440.00" y="352.55" width="1.54" height="3.85" fill="#a8a8a8"/>
<rect x="441.54" y="349.48" width="1.54" height="6.92" fill="#666666"/>
<rect x="441.54" y="352.38" width="1.54" height="4.02" fill="#151515"/>
<rect x="443.08" y="346.40" width="1.23" height="10.00" fill="#666666"/>
<rect x="443.08" y="350.60" width="1.23" height="5.80" fill="#151515"/>
<rect x="444.31" y="349.48" width="1.08" height="6.92" fill="#3e3e3e"/>
<rect x="444.31" y="352.38" width="1.08" height="4.02" fill="#151515"/>
<rect x="445.38" y="324.86" width="1.08" height="31.54" fill="#1e1e1e"/>
<rect x="446.46" y="351.02" width="1.23" height="5.38" fill="#1e1e1e"/>
<rect x="447.69" y="339.48" width="1.85" height="16.92" fill="#0c0c0c"/>
<rect x="449.54" y="352.55" width="1.23" height="3.85" fill="#1e1e1e"/>
<rect x="450.77" y="331.78" width="1.85" height="24.62" fill="#0c0c0c"/>
<rect x="452.62" y="352.55" width="1.23" height="3.85" fill="#1e1e1e"/>
<rect x="453.85" y="349.48" width="1.08" height="6.92" fill="#1e1e1e"/>
<rect x="454.92" y="318.71" width="0.92" height="37.69" fill="#1e1e1e"/>
<rect x="455.85" y="335.63" width="0.77" height="20.77" fill="#0c0c0c"/>
<rect x="456.62" y="354.09" width="1.08" height="2.31" fill="#1e1e1e"/>
<rect x="457.69" y="335.63" width="1.08" height="20.77" fill="#3e3e3e"/>
<rect x="457.69" y="344.35" width="1.08" height="12.05" fill="#151515"/>
<rect x="458.77" y="321.48" width="2.77" height="34.92" fill="#0c0c0c"/>
<rect x="461.54" y="354.86" width="1.54" height="1.54" fill="#1e1e1e"/>
<rect x="463.08" y="346.40" width="1.54" height="10.00" fill="#666666"/>
<rect x="463.08" y="350.60" width="1.54" height="5.80" fill="#151515"/>
<rect x="464.62" y="347.17" width="1.85" height="9.23" fill="#0c0c0c"/>
<rect x="466.46" y="352.55" width="1.23" height="3.85" fill="#1e1e1e"/>
<rect x="467.69" y="354.09" width="1.08" height="2.31" fill="#1e1e1e"/>
<rect x="468.77" y="316.40" width="2.00" height="40.00" fill="#0c0c0c"/>
<rect x="470.77" y="335.63" width="1.54" height="20.77" fill="#0c0c0c"/>
<rect x="472.31" y="347.94" width="1.08" height="8.46" fill="#1e1e1e"/>
<rect x="473.38" y="349.48" width="1.23" height="6.92" fill="#666666"/>
<rect x="473.38" y="352.38" width="1.23" height="4.02" fill="#151515"/>
<rect x="474.62" y="336.40" width="1.08" height="20.00" fill="#666666"/>
<rect x="474.62" y="344.80" width="1.08" height="11.60" fill="#151515"/>
<rect x="475.69" y="344.86" width="0.92" height="11.54" fill="#666666"/>
<rect x="475.69" y="349.71" width="0.92" height="6.69" fill="#151515"/>
<rect x="476.62" y="341.02" width="1.08" height="15.38" fill="#1e1e1e"/>
<rect x="477.69" y="346.40" width="1.08" height="10.00" fill="#666666"/>
<rect x="477.69" y="350.60" width="1.08" height="5.80" fill="#151515"/>
<rect x="478.77" y="349.48" width="0.92" height="6.92" fill="#3e3e3e"/>
<rect x="478.77" y="352.38" width="0.92" height="4.02" fill="#151515"/>
<rect x="479.69" y="338.71" width="1.08" height="17.69" fill="#a8a8a8"/>
<rect x="480.77" y="353.32" width="1.08" height="3.08" fill="#1e1e1e"/>
<rect x="481.85" y="329.48" width="2.00" height="26.92" fill="#0c0c0c"/>
<rect x="483.85" y="337.17" width="0.77" height="19.23" fill="#0c0c0c"/>
<rect x="485.85" y="333.32" width="3.08" height="23.08" fill="#0c0c0c"/>
<rect x="492.00" y="353.32" width="2.62" height="3.08" fill="#0c0c0c"/>
<rect x="494.62" y="354.09" width="1.08" height="2.31" fill="#1e1e1e"/>
<rect x="495.69" y="346.40" width="2.00" height="10.00" fill="#666666"/>
<rect x="495.69" y="350.60" width="2.00" height="5.80" fill="#151515"/>
<rect x="497.69" y="352.55" width="1.54" height="3.85" fill="#a8a8a8"/>
<rect x="499.23" y="354.09" width="0.77" height="2.31" fill="#1e1e1e"/>
<rect x="500.00" y="347.94" width="1.54" height="8.46" fill="#666666"/>
<rect x="500.00" y="351.49" width="1.54" height="4.91" fill="#151515"/>
<rect x="501.54" y="345.63" width="1.54" height="10.77" fill="#1e1e1e"/>
<rect x="503.08" y="351.02" width="0.77" height="5.38" fill="#1e1e1e"/>
<rect x="503.85" y="318.71" width="1.08" height="37.69" fill="#0c0c0c"/>
<rect x="504.92" y="351.02" width="1.23" height="5.38" fill="#1e1e1e"/>
<rect x="484.62" y="294.40" width="1.08" height="62.00" fill="#0c0c0c"/>
<rect x="506.15" y="261.80" width="2.92" height="94.60" fill="#0c0c0c"/>
<rect x="508.77" y="291.40" width="1.23" height="65.00" fill="#3e3e3e"/>
<rect x="508.77" y="318.70" width="1.23" height="37.70" fill="#151515"/>
<rect x="509.69" y="249.80" width="2.00" height="106.60" fill="#3e3e3e"/>
<rect x="509.69" y="294.57" width="2.00" height="61.83" fill="#151515"/>
<rect x="335.00" y="344.29" width="2.42" height="12.11" fill="#0c0c0c"/>
<rect x="339.04" y="333.52" width="1.88" height="22.88" fill="#1e1e1e"/>
<rect x="348.06" y="339.58" width="2.02" height="16.82" fill="#0c0c0c"/>
<rect x="351.82" y="334.19" width="1.35" height="22.21" fill="#0c0c0c"/>
<rect x="356.53" y="342.27" width="1.08" height="14.13" fill="#0c0c0c"/>
<rect x="358.55" y="340.25" width="3.36" height="16.15" fill="#0c0c0c"/>
<rect x="363.26" y="334.87" width="2.69" height="21.53" fill="#1e1e1e"/>
<rect x="365.28" y="326.12" width="2.02" height="30.28" fill="#1e1e1e"/>
<rect x="367.30" y="335.54" width="1.35" height="20.86" fill="#0c0c0c"/>
<rect x="371.07" y="346.98" width="2.29" height="9.42" fill="#0c0c0c"/>
<rect x="373.49" y="323.43" width="1.62" height="32.97" fill="#0c0c0c"/>
<rect x="375.11" y="331.50" width="1.62" height="24.90" fill="#0c0c0c"/>
<rect x="376.05" y="338.90" width="1.75" height="17.50" fill="#1e1e1e"/>
<rect x="381.43" y="351.02" width="2.02" height="5.38" fill="#0c0c0c"/>
<rect x="386.14" y="338.23" width="1.62" height="18.17" fill="#1e1e1e"/>
<rect x="389.10" y="349.00" width="1.08" height="7.40" fill="#0c0c0c"/>
<rect x="391.26" y="330.16" width="2.29" height="26.24" fill="#0c0c0c"/>
<rect x="394.89" y="351.69" width="2.29" height="4.71" fill="#0c0c0c"/>
<rect x="310.80" y="353.20" width="88.80" height="3.20" fill="#181818"/>
<rect x="403.50" y="353.20" width="85.40" height="3.20" fill="#181818"/>
<rect x="492.00" y="353.20" width="19.50" height="3.20" fill="#181818"/>
<line x1="310.0" y1="277.1" x2="504.2" y2="277.1" stroke="#888" stroke-width="0.85" stroke-dasharray="1.2,2.26"/>
<rect x="303.0" y="232.6" width="216.0" height="128.7" fill="none" stroke="#747474" stroke-width="1"/>
<line x1="301.2" y1="356.4" x2="303.0" y2="356.4" stroke="#777" stroke-width="0.8"/>
<line x1="301.2" y1="336.6" x2="303.0" y2="336.6" stroke="#777" stroke-width="0.8"/>
<line x1="301.2" y1="316.8" x2="303.0" y2="316.8" stroke="#777" stroke-width="0.8"/>
<line x1="301.2" y1="297.0" x2="303.0" y2="297.0" stroke="#777" stroke-width="0.8"/>
<line x1="301.2" y1="277.1" x2="303.0" y2="277.1" stroke="#777" stroke-width="0.8"/>
<line x1="301.2" y1="257.3" x2="303.0" y2="257.3" stroke="#777" stroke-width="0.8"/>
<line x1="301.2" y1="237.5" x2="303.0" y2="237.5" stroke="#777" stroke-width="0.8"/>
<text transform="translate(296.2,354.6) rotate(-90)" text-anchor="middle" font-size="8.4" class="tk">0.0</text>
<text transform="translate(296.2,315.0) rotate(-90)" text-anchor="middle" font-size="8.4" class="tk">1.0</text>
<text transform="translate(296.2,275.3) rotate(-90)" text-anchor="middle" font-size="8.4" class="tk">2.0</text>
<text transform="translate(296.2,235.7) rotate(-90)" text-anchor="middle" font-size="8.4" class="tk">3.0</text>
<line x1="304.6" y1="361.3" x2="304.6" y2="363.3" stroke="#777" stroke-width="0.8"/>
<text x="305.0" y="379.3" text-anchor="middle" font-size="8.4" class="tk">0</text>
<line x1="341.8" y1="361.3" x2="341.8" y2="363.3" stroke="#777" stroke-width="0.8"/>
<text x="342.2" y="379.3" text-anchor="middle" font-size="8.4" class="tk">100</text>
<line x1="379.1" y1="361.3" x2="379.1" y2="363.3" stroke="#777" stroke-width="0.8"/>
<text x="379.5" y="379.3" text-anchor="middle" font-size="8.4" class="tk">200</text>
<line x1="416.3" y1="361.3" x2="416.3" y2="363.3" stroke="#777" stroke-width="0.8"/>
<text x="416.7" y="379.3" text-anchor="middle" font-size="8.4" class="tk">300</text>
<line x1="453.6" y1="361.3" x2="453.6" y2="363.3" stroke="#777" stroke-width="0.8"/>
<text x="454.0" y="379.3" text-anchor="middle" font-size="8.4" class="tk">400</text>
<line x1="490.8" y1="361.3" x2="490.8" y2="363.3" stroke="#777" stroke-width="0.8"/>
<text x="491.2" y="379.3" text-anchor="middle" font-size="8.4" class="tk">500</text>
<text x="414.2" y="399.2" text-anchor="middle" font-size="12.2" class="lb">Codon</text>
<text transform="translate(280.9,294.9) rotate(-90)" text-anchor="middle" font-size="12.5" class="lb">-log(p)</text>
<text x="386.8" y="217.3" text-anchor="middle" font-size="12.2" class="lb">RT</text>
</g>
</svg>
</body></html>
